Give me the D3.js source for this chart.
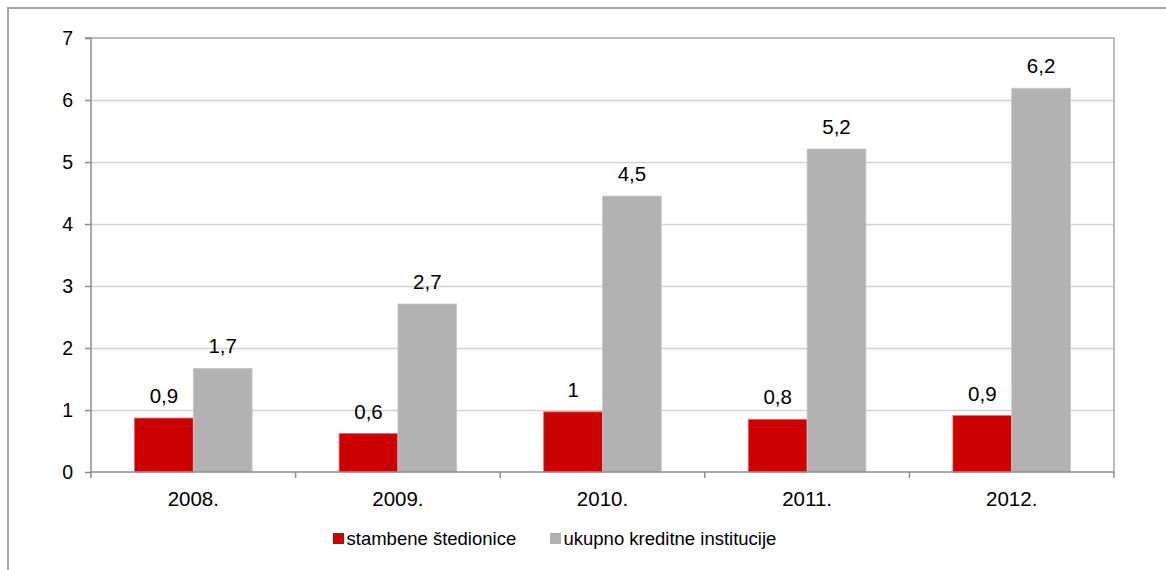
<!DOCTYPE html>
<html><head><meta charset="utf-8">
<script src="https://cdn.jsdelivr.net/npm/d3@7/dist/d3.min.js"></script>
<style>
html,body{margin:0;padding:0;background:#fff;}
svg text{font-family:"Liberation Sans",Arial,sans-serif;fill:#000;}
</style></head>
<body><svg id="c" width="1166" height="570"></svg>
<script>
const categories = ["2008.", "2009.", "2010.", "2011.", "2012."];
const seriesNames = ["stambene štedionice", "ukupno kreditne institucije"];
const stambene = [0.87, 0.62, 0.97, 0.85, 0.91];
const ukupno = [1.67, 2.71, 4.45, 5.21, 6.19];
const stambeneLabels = ["0,9", "0,6", "1", "0,8", "0,9"];
const ukupnoLabels = ["1,7", "2,7", "4,5", "5,2", "6,2"];
const yTicks = [0, 1, 2, 3, 4, 5, 6, 7];
const colors = ["#CC0000", "#B2B2B2"];

(function(){
const svg = d3.select("#c");
const pL = 91, pR = 1114, pT = 38, pB = 472;
const fsNum = 20.5, fsLeg = 18.5, fsY = 19.5;

// outer frame
svg.append("rect").attr("x", 8).attr("y", 8).attr("width", 1300).attr("height", 700)
  .attr("fill", "none").attr("stroke", "#a6a6a6").attr("stroke-width", 2);

const x = d3.scaleBand().domain(categories).range([pL, pR]).paddingInner(0).paddingOuter(0);
const y = d3.scaleLinear().domain([0, 7]).range([pB, pT]);
const sub = d3.scaleBand().domain([0, 1]).range([0, x.bandwidth()]).paddingOuter(0.74).paddingInner(0);

// gridlines
svg.append("g").selectAll("line").data(yTicks.filter(t => t > 0 && t < 7)).join("line")
  .attr("x1", pL).attr("x2", pR)
  .attr("y1", d => Math.round(y(d)) + 0.5).attr("y2", d => Math.round(y(d)) + 0.5)
  .attr("stroke", "#d3d3d3").attr("stroke-width", 1.5);
// plot border top/right
svg.append("path").attr("d", `M${pL},${y(7)}H${pR}V${pB}`)
  .attr("fill", "none").attr("stroke", "#a8a8a8").attr("stroke-width", 1.5);

// bars
const data = categories.map((c, i) => ({c, vals: [stambene[i], ukupno[i]], labs: [stambeneLabels[i], ukupnoLabels[i]]}));
const g = svg.append("g").selectAll("g").data(data).join("g")
  .attr("transform", d => `translate(${x(d.c)},0)`);
g.selectAll("rect").data(d => d.vals.map((v, k) => ({v, k}))).join("rect")
  .attr("x", d => sub(d.k)).attr("width", sub.bandwidth())
  .attr("y", d => y(d.v)).attr("height", d => y(0) - y(d.v))
  .attr("fill", d => colors[d.k])
  .attr("stroke", d => d.k === 0 ? "#e06a6a" : "#c8c8c8").attr("stroke-width", 0.8);
g.selectAll("text").data(d => d.vals.map((v, k) => ({v, k, l: d.labs[k]}))).join("text")
  .attr("x", d => sub(d.k) + sub.bandwidth() / 2).attr("y", d => y(d.v) - 15)
  .attr("text-anchor", "middle").attr("font-size", fsNum)
  .text(d => d.l);

// y axis
const yAxis = d3.axisLeft(y).tickValues(yTicks).tickSize(6).tickPadding(12).tickFormat(d3.format("d"));
const ya = svg.append("g").attr("transform", `translate(${pL},0)`).call(yAxis);
ya.select(".domain").attr("stroke", "#8c8c8c").attr("stroke-width", 1.5).attr("d", `M-6,${pT}H0V${pB}`);
ya.selectAll(".tick line").attr("stroke", "#8c8c8c").attr("stroke-width", 1.5);
ya.selectAll(".tick text").attr("font-size", fsY).attr("fill", "#000").attr("dy", "0.35em")
  .attr("font-family", "Liberation Sans, Arial, sans-serif");

// x axis
svg.append("line").attr("x1", pL).attr("x2", pR).attr("y1", pB).attr("y2", pB)
  .attr("stroke", "#8c8c8c").attr("stroke-width", 1.5);
const bounds = categories.map(c => x(c)).concat([pR]);
svg.append("g").selectAll("line").data(bounds).join("line")
  .attr("x1", d => d).attr("x2", d => d).attr("y1", pB).attr("y2", pB + 6)
  .attr("stroke", "#8c8c8c").attr("stroke-width", 1.5);
svg.append("g").selectAll("text").data(categories).join("text")
  .attr("x", d => x(d) + x.bandwidth() / 2).attr("y", 505.5)
  .attr("text-anchor", "middle").attr("font-size", fsNum)
  .text(d => d);

// legend
const legX = [333, 550];
const lg = svg.append("g").selectAll("g").data(seriesNames).join("g")
  .attr("transform", (d, i) => `translate(${legX[i]},0)`);
lg.append("rect").attr("x", 0).attr("y", 533).attr("width", 11).attr("height", 11)
  .attr("fill", (d, i) => colors[i]);
lg.append("text").attr("x", 13.5).attr("y", 545).attr("font-size", fsLeg).text(d => d);
})();
</script></body></html>
